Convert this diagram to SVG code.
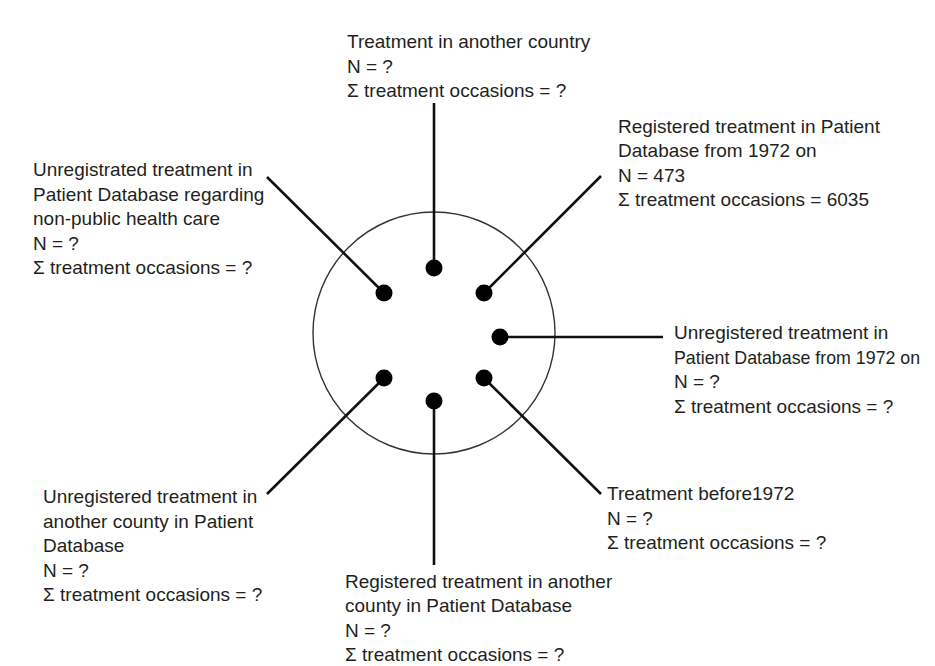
<svg xmlns="http://www.w3.org/2000/svg" width="935" height="666" viewBox="0 0 935 666">
<style>
  .lbl { font-family: "Liberation Sans", Arial, sans-serif; font-size: 19px; fill: #231f20; }
  .conn { stroke: #111; stroke-width: 2.6; fill: none; }
  .dot { fill: #000; }
</style>
<rect width="935" height="666" fill="#ffffff"/>
<g id="ring"><circle cx="434" cy="333" r="121" fill="none" stroke="#333" stroke-width="1.4"/></g>
<g id="connectors">
  <line class="conn" x1="434" y1="268" x2="434" y2="103"/>
  <line class="conn" x1="484" y1="293" x2="601" y2="176"/>
  <line class="conn" x1="500" y1="337" x2="663" y2="337"/>
  <line class="conn" x1="484" y1="378" x2="601" y2="494"/>
  <line class="conn" x1="434" y1="401" x2="434" y2="565"/>
  <line class="conn" x1="384" y1="378" x2="267" y2="494"/>
  <line class="conn" x1="384" y1="293" x2="267" y2="177"/>
</g>
<g id="node-top">
  <circle class="dot" cx="434" cy="268" r="8.5"/>
  <text class="lbl"><tspan x="347" y="48">Treatment in another country</tspan><tspan x="347" y="72.5">N = ?</tspan><tspan x="347" y="97">Σ treatment occasions = ?</tspan></text>
</g>
<g id="node-upper-right">
  <circle class="dot" cx="484" cy="293" r="8.5"/>
  <text class="lbl"><tspan x="618" y="133">Registered treatment in Patient</tspan><tspan x="618" y="157">Database from 1972 on</tspan><tspan x="618" y="181.5">N = 473</tspan><tspan x="618" y="206">Σ treatment occasions = 6035</tspan></text>
</g>
<g id="node-right">
  <circle class="dot" cx="500" cy="337" r="8.5"/>
  <text class="lbl" x="674" y="339">Unregistered treatment in</text>
  <text class="lbl" x="674" y="363.5" style="font-size:17.8px">Patient Database from 1972 on</text>
  <text class="lbl" x="674" y="388">N = ?</text>
  <text class="lbl" x="674" y="412.5">Σ treatment occasions = ?</text>
</g>
<g id="node-lower-right">
  <circle class="dot" cx="484" cy="378" r="8.5"/>
  <text class="lbl"><tspan x="607" y="500">Treatment before1972</tspan><tspan x="607" y="524.5">N = ?</tspan><tspan x="607" y="549">Σ treatment occasions = ?</tspan></text>
</g>
<g id="node-bottom">
  <circle class="dot" cx="434" cy="401" r="8.5"/>
  <text class="lbl"><tspan x="345" y="588">Registered treatment in another</tspan><tspan x="345" y="612">county in Patient Database</tspan><tspan x="345" y="636.5">N = ?</tspan><tspan x="345" y="661">Σ treatment occasions = ?</tspan></text>
</g>
<g id="node-lower-left">
  <circle class="dot" cx="384" cy="378" r="8.5"/>
  <text class="lbl"><tspan x="43" y="503">Unregistered treatment in</tspan><tspan x="43" y="527.5">another county in Patient</tspan><tspan x="43" y="552">Database</tspan><tspan x="43" y="576.5">N = ?</tspan><tspan x="43" y="601">Σ treatment occasions = ?</tspan></text>
</g>
<g id="node-upper-left">
  <circle class="dot" cx="384" cy="293" r="8.5"/>
  <text class="lbl"><tspan x="33" y="176">Unregistrated treatment in</tspan><tspan x="33" y="200.5">Patient Database regarding</tspan><tspan x="33" y="225">non-public health care</tspan><tspan x="33" y="249.5">N = ?</tspan><tspan x="33" y="274">Σ treatment occasions = ?</tspan></text>
</g>
</svg>
